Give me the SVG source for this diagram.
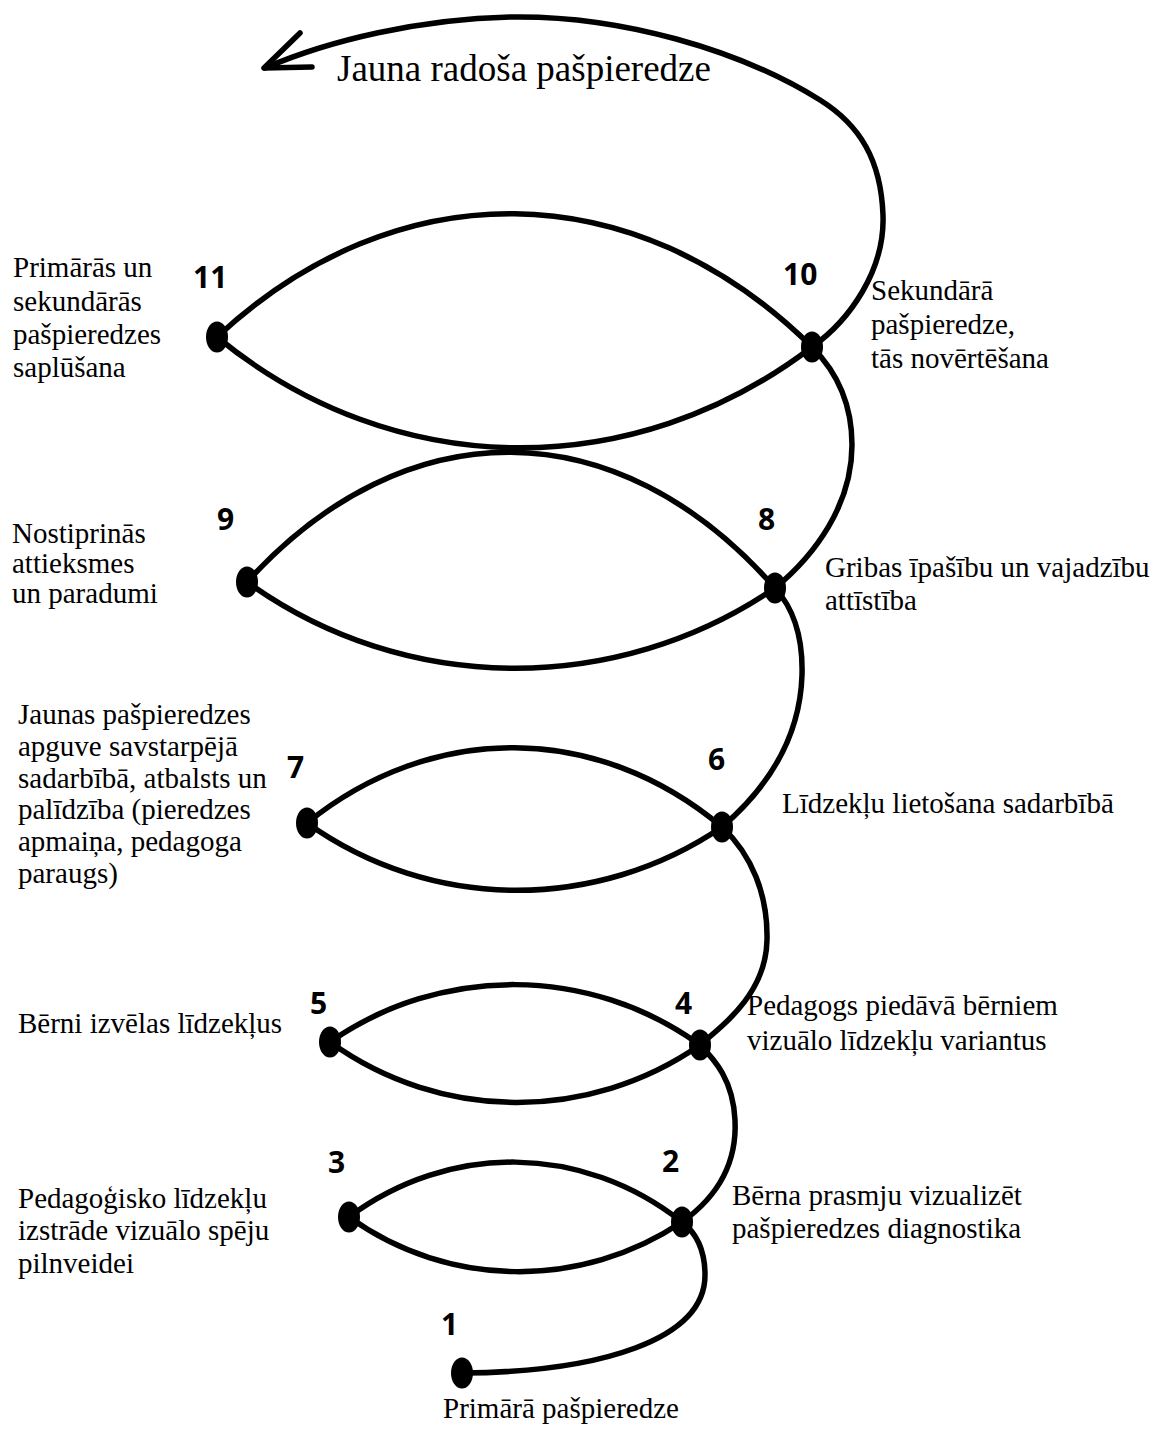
<svg xmlns="http://www.w3.org/2000/svg" width="1157" height="1429" viewBox="0 0 1157 1429">
<style>
.ln{fill:none;stroke:#000;stroke-width:5.5;stroke-linecap:round;stroke-linejoin:round}
.dot{fill:#000}
.num{font-family:"Open Sans","Liberation Sans",sans-serif;font-weight:700;font-size:30px;fill:#000}
.lbl{font-family:"Liberation Serif","Times New Roman",serif;font-size:29px;fill:#000}
.title{font-family:"Liberation Serif","Times New Roman",serif;font-size:37px;fill:#000}
</style>
<rect width="1157" height="1429" fill="#fff"/>
<g id="connectors">
  <path class="ln" d="M217,337 C395,171 634,171 812,347"/>
  <path class="ln" d="M217,337 C395,483 634,483 812,347"/>
  <path class="ln" d="M247,582 C405,408 617,408 775,588"/>
  <path class="ln" d="M247,582 C405,696 617,696 775,588"/>
  <path class="ln" d="M307,823 C432,722 597,722 722,827"/>
  <path class="ln" d="M307,823 C432,912 597,912 722,827"/>
  <path class="ln" d="M330,1042 C441,965 589,965 700,1045"/>
  <path class="ln" d="M330,1042 C441,1122 589,1122 700,1045"/>
  <path class="ln" d="M349,1217 C449,1143 582,1143 682,1222"/>
  <path class="ln" d="M349,1217 C449,1289 582,1289 682,1222"/>
  <path class="ln" d="M462,1373 C600,1372 705,1340 705,1275 C705,1248 695,1232 682,1222"/>
  <path class="ln" d="M682,1222 C720,1195 737,1160 735,1120 C733,1080 715,1060 700,1045"/>
  <path class="ln" d="M700,1045 C730,1020 766,990 767,940 C768,895 752,855 722,827"/>
  <path class="ln" d="M722,827 C765,790 800,740 802,675 C803,640 795,610 775,588"/>
  <path class="ln" d="M775,588 C815,555 852,505 852,445 C852,400 835,370 812,347"/>
  <path class="ln" d="M812,347 C850,320 885,270 883,215 C881,160 860,125 820,100 C740,50 620,15 510,17 C420,19 330,40 265,68"/>
  <path class="ln" d="M300,33 L264,68 L312,67"/>
</g>
<text class="title" x="337" y="81">Jauna radoša pašpieredze</text>
<g id="node-1">
  <ellipse class="dot" cx="462" cy="1373" rx="11" ry="15.5"/>
  <text class="num" x="441" y="1335">1</text>
  <text class="lbl" x="443" y="1418">Primārā pašpieredze</text>
</g>
<g id="node-2">
  <ellipse class="dot" cx="682" cy="1222" rx="11" ry="15.5"/>
  <text class="num" x="662" y="1172">2</text>
  <text class="lbl" x="732" y="1205">Bērna prasmju vizualizēt</text>
  <text class="lbl" x="732" y="1238">pašpieredzes diagnostika</text>
</g>
<g id="node-3">
  <ellipse class="dot" cx="349" cy="1217" rx="11" ry="15.5"/>
  <text class="num" x="328" y="1173">3</text>
  <text class="lbl" x="18" y="1208">Pedagoģisko līdzekļu</text>
  <text class="lbl" x="18" y="1240">izstrāde vizuālo spēju</text>
  <text class="lbl" x="18" y="1273">pilnveidei</text>
</g>
<g id="node-4">
  <ellipse class="dot" cx="700" cy="1045" rx="11" ry="15.5"/>
  <text class="num" x="675" y="1014">4</text>
  <text class="lbl" x="747" y="1015">Pedagogs piedāvā bērniem</text>
  <text class="lbl" x="747" y="1050">vizuālo līdzekļu variantus</text>
</g>
<g id="node-5">
  <ellipse class="dot" cx="330" cy="1042" rx="11" ry="15.5"/>
  <text class="num" x="310" y="1014">5</text>
  <text class="lbl" x="18" y="1033">Bērni izvēlas līdzekļus</text>
</g>
<g id="node-6">
  <ellipse class="dot" cx="722" cy="827" rx="11" ry="15.5"/>
  <text class="num" x="708" y="770">6</text>
  <text class="lbl" x="782" y="813">Līdzekļu lietošana sadarbībā</text>
</g>
<g id="node-7">
  <ellipse class="dot" cx="307" cy="823" rx="11" ry="15.5"/>
  <text class="num" x="287" y="778">7</text>
  <text class="lbl" x="18" y="724">Jaunas pašpieredzes</text>
  <text class="lbl" x="18" y="756">apguve savstarpējā</text>
  <text class="lbl" x="18" y="788">sadarbībā, atbalsts un</text>
  <text class="lbl" x="18" y="819">palīdzība (pieredzes</text>
  <text class="lbl" x="18" y="851">apmaiņa, pedagoga</text>
  <text class="lbl" x="18" y="883">paraugs)</text>
</g>
<g id="node-8">
  <ellipse class="dot" cx="775" cy="588" rx="11" ry="15.5"/>
  <text class="num" x="758" y="530">8</text>
  <text class="lbl" x="825" y="577">Gribas īpašību un vajadzību</text>
  <text class="lbl" x="825" y="610">attīstība</text>
</g>
<g id="node-9">
  <ellipse class="dot" cx="247" cy="582" rx="11" ry="15.5"/>
  <text class="num" x="217" y="530">9</text>
  <text class="lbl" x="12" y="543">Nostiprinās</text>
  <text class="lbl" x="12" y="573">attieksmes</text>
  <text class="lbl" x="12" y="603">un paradumi</text>
</g>
<g id="node-10">
  <ellipse class="dot" cx="812" cy="347" rx="11" ry="15.5"/>
  <text class="num" x="783" y="285">10</text>
  <text class="lbl" x="871" y="300">Sekundārā</text>
  <text class="lbl" x="871" y="334">pašpieredze,</text>
  <text class="lbl" x="871" y="368">tās novērtēšana</text>
</g>
<g id="node-11">
  <ellipse class="dot" cx="217" cy="337" rx="11" ry="15.5"/>
  <text class="num" x="193" y="288">11</text>
  <text class="lbl" x="13" y="277">Primārās un</text>
  <text class="lbl" x="13" y="311">sekundārās</text>
  <text class="lbl" x="13" y="344">pašpieredzes</text>
  <text class="lbl" x="13" y="377">saplūšana</text>
</g>
</svg>
